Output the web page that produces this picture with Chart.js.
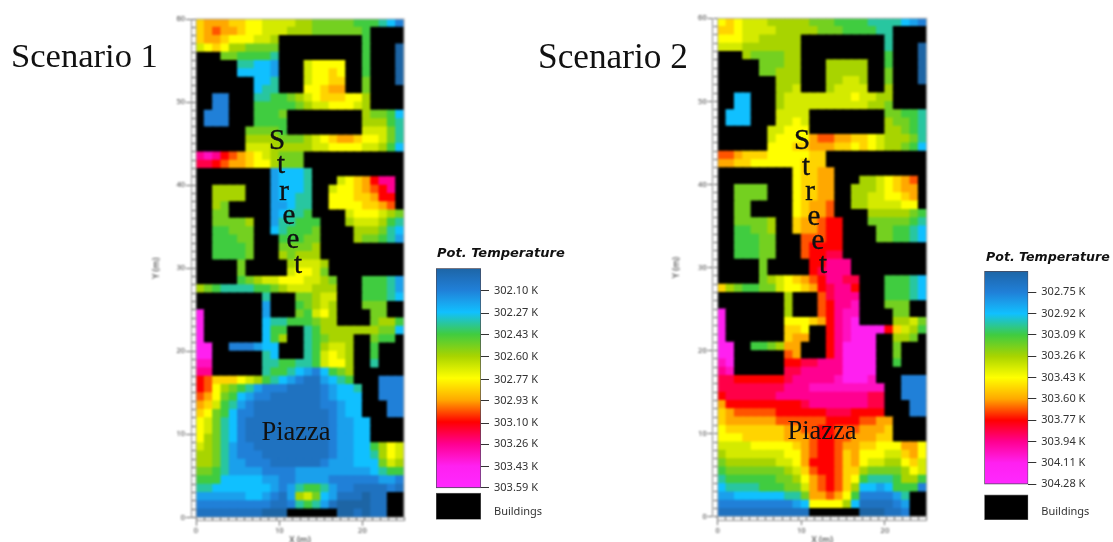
<!DOCTYPE html>
<html>
<head>
<meta charset="utf-8">
<title>Pot. Temperature scenarios</title>
<script src="https://cdn.jsdelivr.net/npm/chart.js@4"></script>
<style>
    html, body { margin: 0; padding: 0; background: #fff; overflow: hidden; }
    body { position: relative; width: 1113px; height: 542px; }
    canvas { position: absolute; filter: blur(0.6px); }
    .heat { filter: blur(0.8px); }
    .label { position: absolute; white-space: nowrap; color: #111; font-family: "Liberation Serif", serif; transform: translate(-50%, -50%); filter: blur(0.4px); }
    .scenario { font-size: 34.6px; transform: translate(0, -50%); }
    .street { font-size: 29px; -webkit-text-stroke: 0.4px #111; }
    .piazza { font-size: 26.5px; }
    .legend-title { font: italic bold 13px "DejaVu Sans", sans-serif; color: #111; transform: translate(0, -50%); }
</style>
</head>
<body>
<canvas id="heat1" class="heat" width="280" height="546" style="left:150px;top:0"></canvas>
<canvas id="heat2" class="heat" width="280" height="546" style="left:670px;top:0"></canvas>
<canvas id="legend1" width="150" height="292" style="left:430px;top:240px"></canvas>
<canvas id="legend2" width="138" height="292" style="left:975px;top:240px"></canvas>

<script>
// Letters a..u are half steps down the colour bar, # is a building. Top row is y = 59..60
const scenario1Rows = [
    'lmmml lkkjj jjiih hhhhg ggfec',
    'lmnmm lkkjj jiiih hhhhh g####',
    'lmmlk kkjji ##### ##### g####',
    'jklki ihhhh ##### ##### g###a',
    '###hh ggggf ##### ##### g###a',
    '##### ffeed ###jk kkk## g###a',
    '##### eeeed ###jk klk## g###a',
    '##### ##eef ###jk kll## h###a',
    '##### ##eff ###kk lmm## h####',
    '##cc# ##ffg ghijk lllkk i####',
    '##cc# ##ggg gghij jkkkj i####',
    '#ccc# ##ggg h#### ##### ihhge',
    '#ccc# ##ggg g#### ##### iiigf',
    '##### #hhhh g#### ##### jjjhf',
    '##### #iiii hhhij klmml kkjhf',
    '##### #jjji iiiij jkkkk jjige',
    'qrqon mlkji hhh## ##### #####',
    'pponm mlkki hhh## ##### #####',
    '##### ####d eeef# ##### #####',
    '##### ####d eeef# ##jkl moqq#',
    '##iii i###d eeef# #jkkl mnoq#',
    '##iii i###d eeff# #kkkl lmoo#',
    '##ih# ####d deff# #kkkk llmn#',
    '##hh# ####d effg# ###jk kkjih',
    '##hhh hi##d ffggg ###ij jjigf',
    '##ggh hh##e fgggh ####i iihfe',
    '##ggg hh### ggghh ####i hhgfd',
    '##ggg gh### hhhhi ##### #####',
    '##ggg gh### ihiii ##### #####',
    '##### h#### #ijjj i#### #####',
    '##### h#### #jkkj h#### #####',
    '##### ghijj kkkjj ih### gggfd',
    'ihgff ffggh ijjji ii### gggfd',
    '##### ###f# ##hhi jj### gggfe',
    '##### ###d# ##ghi ji### hhh##',
    's#### ###d# ##hgj ki### #hh##',
    's#### ###ef fgggh ii### #hiig',
    's#### ###eg g##fg iiiii iihhe',
    's#### ###eg i##fg hiii# #hgg#',
    'ss##c ccdee ###fg ijji# #g###',
    'ss### ###fe ###fg jkji# #g###',
    'rr### ###ff ggffg jkki# #f###',
    'qq### ###fg gfedc eghi# #####',
    'onlll kjigf edcbb defg# ##ccc',
    'onkih gfdcc cbbbb cdeef ##ccc',
    'nmkhg edccb bbbbb cdeee ##ccc',
    'mljgf dcbbb bbbbb ccdee ###cc',
    'lkhge ccbbb bbbbb bcdee ###cc',
    'kjhfe cbbbb bbbbb bcdde e####',
    'kjhfe cbbbb bbbbb bcdde e####',
    'kihfe cbbbb bbbbb bcdde e####',
    'jihfd ccbbb bbbbb bcdde egikj',
    'iihfd cccbb bbbbb bcdde efikj',
    'iihfd dcccb bbbbb cddde eehji',
    'hhgfd dddcc ccddd ddddd defgg',
    'gggee eeedd ccddd dcccc ccddc',
    'ffeee eeeed cdfgg fdccb bbbcb',
    'ddddd deedc bdijh edbbb abb##',
    'ccccc ccccb bcfgf dbaaa abb##',
    'bbbbb bbbaa a#### ##aab abb##'
];

const scenario2Rows = [
    'klkjj jiiii ihhhg gggff ffedc',
    'llkjj jjiii iihhh ggggf f####',
    'kkkjj iiiii ##### ##### f####',
    'jjjii iiiii ##### ##### f###a',
    '###ih hhhii ##### ##### g###a',
    '##### hhhii ###ii iii## g###a',
    '##### hhiii ###ii iii## h###a',
    '##### ##iii ###ii jji## h###a',
    '##### ##iij ###ij jjj## i####',
    '##ee# ##ijj jjjjj jkjji i####',
    '##ee# ##ijj jjjjj jjjii h####',
    '#eee# ##jjj j#### ##### hhggf',
    '#eee# ##jjk j#### ##### ihhgf',
    '##### #jjkk k#### ##### iihgf',
    '##### #jkkk kmnnm mllkj iiihf',
    '##### #kkkl lmmml lklkj iihge',
    'nnmll lkkkk kll## ##### #####',
    'mmllk kkkkk lll## ##### #####',
    '##### ####k llmm# ##### #####',
    '##### ####k llmm# ##iij klmn#',
    '##hhh h###k llmm# #iiij klmm#',
    '##hhh h###k llmm# #iijj kklm#',
    '##hh# ####k lmmn# #iijj jjkk#',
    '##hh# ####k lmmn# ###ii iiihg',
    '##hhh hi##l mmnoo ###hh hhhgf',
    '##ggh hi##l mmnoo ####h hggfe',
    '##ggg hh### nnnoo ####h hggfe',
    '##ggg hh### noooo ##### #####',
    '##ggg hh### noopp ##### #####',
    '##### h#### #ooqq q#### #####',
    '##### h#### #opqq q#### #####',
    '##### hijkl mnoqq pp### gggfe',
    'lihgg hhjkk lmopq qo### gggfe',
    '##### ###i# ##npq qq### gggfe',
    '##### ###i# ##noq qr### hhh##',
    's#### ###i# ##noq rr### #hh##',
    's#### ###kk klmoq rs### #iijh',
    's#### ###ll k##oq rssss oljig',
    's#### ###lm m##oq rsss# #iih#',
    'ss##g ghimm ###oq ssss# #h###',
    'ss### ###nm ###oq ssss# #h###',
    'rs### ###oo ppqqq ssss# #g###',
    'qr### ###pp qqqqq ssss# #####',
    'ppooo ooopq qqqqr sssr# ##ccc',
    'ppppp pppqq qrrrr rrrrr ##ccc',
    'opppp ppqqq qqqqq qqqpp ##ccc',
    'moooo ooooo pqqqq qqqpp ###cc',
    'lmnnn nnooo ooopp poooo ###cc',
    'lmmmm mmnnn nnnoo oonnm m####',
    'kllll lllmm nnoon nnmmm l####',
    'kkkll lllmm mnoon nmmml l####',
    'jjjjk kkkkl mnoon mmllk kkmmk',
    'ijjjj jjjkk mnoon lmkkk jjlmk',
    'hiiii iijjk mooon lmkjj iiklj',
    'ghhhh hhhij lnoon llihh hhikj',
    'fgggg gghhi kmnon lkgff fgiig',
    'effff ggghh jmnon lieed egggc',
    'ddeee eeeff hmmnm kgccc cdf##',
    'ccccc ccccd ekkkk iebbb bcd##',
    'bbbbb bbbbb b#### ##aaa bbc##'
];

// Colour bar, one colour per level letter
const levelLetters = 'abcdefghijklmnopqrstu';
const levelColors = [
    '#1d65a5', '#1f72c0', '#2080d8', '#1aa0ec', '#10c0ff', '#28c6a0', '#40cc40',
    '#74d020', '#a8d400', '#d4ea00', '#ffff00', '#ffd400', '#ffa800', '#ff5400',
    '#ff0000', '#ff0048', '#ff0090', '#ff10c0', '#ff20f0', '#ff24f8', '#ff28ff'
];
const buildingColor = '#000000';

const ticks1 = [302.10, 302.27, 302.43, 302.60, 302.77, 302.93, 303.10, 303.26, 303.43, 303.59];
const ticks2 = [302.75, 302.92, 303.09, 303.26, 303.43, 303.60, 303.77, 303.94, 304.11, 304.28];

Chart.defaults.animation = false;
Chart.defaults.responsive = false;
Chart.defaults.font.family = '"Noto Sans", sans-serif';

const frameLine = {
    id: 'frameLine',
    afterDraw(chart) {
        const a = chart.chartArea;
        chart.ctx.save();
        chart.ctx.strokeStyle = '#a8a8a8';
        chart.ctx.lineWidth = 1;
        chart.ctx.strokeRect(a.left, a.top, a.right - a.left, a.bottom - a.top);
        chart.ctx.restore();
    }
};

function fixedSize(size, horizontal) {
    return scale => {
        if (horizontal) scale.height = size;
        else scale.width = size;
    };
}

function drawHeatmap(canvasId, rows, box) {
    const cells = [];
    const colors = [];
    rows.forEach((row, r) => {
        row.replace(/ /g, '').split('').forEach((letter, c) => {
            cells.push({ x: c + 0.5, y: [59 - r, 60 - r] });
            colors.push(letter === '#' ? buildingColor : levelColors[levelLetters.indexOf(letter)]);
        });
    });

    const tickFont = { size: 7.5 };
    return new Chart(document.getElementById(canvasId), {
        type: 'bar',
        data: {
            datasets: [{
                data: cells,
                backgroundColor: colors,
                borderWidth: 0,
                inflateAmount: 0.5,
                barPercentage: 1,
                categoryPercentage: 1
            }]
        },
        plugins: [frameLine],
        options: {
            layout: { padding: { top: box.top, right: box.right, left: 0, bottom: 0 } },
            plugins: { legend: { display: false }, tooltip: { enabled: false } },
            scales: {
                x: {
                    type: 'linear', position: 'bottom', weight: 1, min: 0, max: 25, offset: false,
                    grid: { offset: false, drawOnChartArea: false, tickLength: 5, color: '#666' },
                    border: { color: '#888' },
                    ticks: { stepSize: 10, includeBounds: false, maxRotation: 0, padding: 1, color: '#333', font: tickFont },
                    title: { display: true, text: 'X (m)', color: '#222', font: { size: 9 }, padding: { top: 0, bottom: 0 } },
                    afterFit: fixedSize(box.bottom, true)
                },
                xMinor: {
                    axis: 'x', type: 'linear', position: 'bottom', weight: 0, min: 0, max: 25,
                    grid: { drawOnChartArea: false, tickLength: 3, color: '#555' },
                    border: { display: false },
                    ticks: { stepSize: 1, display: false },
                    afterFit: fixedSize(3.3, true)
                },
                y: {
                    type: 'linear', position: 'left', weight: 1, min: 0, max: 60,
                    grid: { drawOnChartArea: false, tickLength: 5, color: '#666' },
                    border: { color: '#888' },
                    ticks: { stepSize: 10, padding: 1, color: '#333', font: tickFont },
                    title: { display: true, text: 'Y (m)', color: '#222', font: { size: 9 }, padding: { top: 1, bottom: 0 } },
                    afterFit: fixedSize(box.left, false)
                },
                yMinor: {
                    axis: 'y', type: 'linear', position: 'left', weight: 0, min: 0, max: 60,
                    grid: { drawOnChartArea: false, tickLength: 4, color: '#555' },
                    border: { display: false },
                    ticks: { stepSize: 1, display: false },
                    afterFit: fixedSize(5, false)
                }
            }
        }
    });
}

function drawLegend(canvasId, ticks, scale, box) {
    // Bar runs down from barTop to the last tick, the buildings swatch sits under it on the same axis
    const values = ticks.concat([scale.buildingsTick]);
    const gradientFor = chart => {
        const y = chart.scales.y;
        const g = chart.ctx.createLinearGradient(0, y.getPixelForValue(scale.barTop), 0, y.getPixelForValue(ticks[ticks.length - 1]));
        levelColors.forEach((color, i) => g.addColorStop(i / (levelColors.length - 1), color));
        return g;
    };

    return new Chart(document.getElementById(canvasId), {
        type: 'bar',
        data: {
            labels: ['bar'],
            datasets: [{
                data: [
                    { x: 'bar', y: [scale.barTop, ticks[ticks.length - 1]] },
                    { x: 'bar', y: scale.swatch }
                ],
                backgroundColor: ctx => (ctx.dataIndex === 0 && ctx.chart.chartArea ? gradientFor(ctx.chart) : buildingColor),
                borderColor: ctx => (ctx.dataIndex === 0 ? '#4a4a5a' : '#555'),
                borderWidth: 1,
                borderSkipped: false,
                barPercentage: 1,
                categoryPercentage: 1
            }]
        },
        options: {
            layout: { padding: box.padding },
            plugins: { legend: { display: false }, tooltip: { enabled: false } },
            scales: {
                x: { display: false },
                y: {
                    type: 'linear', position: 'right', reverse: true, min: scale.barTop, max: scale.axisEnd,
                    grid: {
                        drawOnChartArea: false, tickLength: 8,
                        color: ctx => (ctx.tick && ctx.tick.value === scale.buildingsTick ? 'rgba(0,0,0,0)' : '#333')
                    },
                    border: { display: false },
                    afterBuildTicks: axis => { axis.ticks = values.map(v => ({ value: v })); },
                    ticks: {
                        autoSkip: false, padding: 5, color: '#333', font: { size: 11 },
                        callback: v => (v === scale.buildingsTick ? 'Buildings' : v.toFixed(2) + ' K')
                    },
                    afterFit: fixedSize(box.axisWidth, false)
                }
            }
        }
    });
}

drawHeatmap('heat1', scenario1Rows, { top: 19, right: 26, left: 41, bottom: 25.3 });
drawHeatmap('heat2', scenario2Rows, { top: 18.3, right: 23.3, left: 42.7, bottom: 25.9 });

drawLegend('legend1', ticks1,
    { barTop: 301.93, axisEnd: 303.83, swatch: [303.63, 303.83], buildingsTick: 303.77 },
    { padding: { top: 28.3, left: 6, right: 0, bottom: 12.4 }, axisWidth: 99 });
drawLegend('legend2', ticks2,
    { barTop: 302.58, axisEnd: 304.565, swatch: [304.365, 304.565], buildingsTick: 304.50 },
    { padding: { top: 31, left: 9.3, right: 0, bottom: 12 }, axisWidth: 84.7 });

// Text laid over the picture: text, class, x, y, optional font size
const overlayTexts = [
    ['Scenario 1', 'scenario', 11, 55],
    ['Scenario 2', 'scenario', 538, 57, 35.3],
    ['S', 'street', 277, 139], ['t', 'street', 281, 163], ['r', 'street', 284, 190],
    ['e', 'street', 289, 214], ['e', 'street', 293, 238], ['t', 'street', 298, 263],
    ['S', 'street', 802, 139], ['t', 'street', 806, 165], ['r', 'street', 810, 190],
    ['e', 'street', 814, 215], ['e', 'street', 818, 239], ['t', 'street', 823, 263],
    ['Piazza', 'piazza', 296, 431], ['Piazza', 'piazza', 822, 430],
    ['Pot. Temperature', 'legend-title', 437, 252],
    ['Pot. Temperature', 'legend-title', 986, 256, 12.6]
];
overlayTexts.forEach(([text, cls, x, y, size]) => {
    const span = document.createElement('span');
    span.className = 'label ' + cls;
    span.textContent = text;
    span.style.left = x + 'px';
    span.style.top = y + 'px';
    if (size) span.style.fontSize = size + 'px';
    document.body.appendChild(span);
});
</script>
</body>
</html>
